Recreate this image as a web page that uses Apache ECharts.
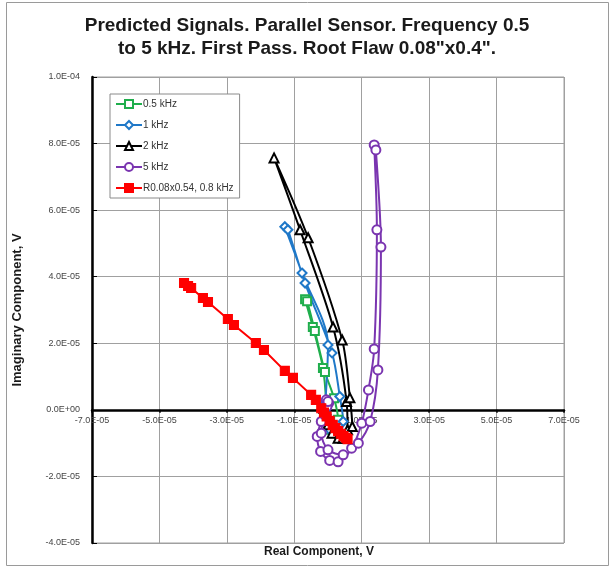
<!DOCTYPE html>
<html>
<head>
<meta charset="utf-8">
<script src="https://cdn.jsdelivr.net/npm/echarts@6/dist/echarts.min.js"></script>
<style>
  html, body { margin: 0; padding: 0; background: #fff; }
  #chart { width: 614px; height: 570px; }
</style>
</head>
<body>
<div id="chart"></div>
<script>
// Signal traces in the impedance plane: [real, imaginary] in volts.
const f05kHz = [
  [-0.05e-5, 0.15e-5], [-0.15e-5, 1.26e-5], [-0.45e-5, 2.49e-5], [-0.68e-5, 3.32e-5],
  [-0.62e-5, 3.26e-5], [-0.39e-5, 2.37e-5], [-0.09e-5, 1.14e-5], [0.18e-5, 0.35e-5],
  [0.30e-5, -0.30e-5], [0.20e-5, -0.70e-5], [0.00e-5, -0.60e-5], [-0.10e-5, -0.20e-5]
];
const f1kHz = [
  [-0.08e-5, 0.20e-5], [0.00e-5, 1.95e-5], [-0.77e-5, 4.11e-5], [-1.28e-5, 5.50e-5],
  [-1.19e-5, 5.41e-5], [-0.68e-5, 3.81e-5], [0.12e-5, 1.71e-5], [0.35e-5, 0.40e-5],
  [0.45e-5, -0.35e-5], [0.30e-5, -0.80e-5], [0.05e-5, -0.60e-5], [-0.05e-5, -0.15e-5]
];
const f2kHz = [
  [-0.12e-5, 0.05e-5], [0.00e-5, -0.45e-5], [0.30e-5, -0.85e-5], [0.58e-5, -0.60e-5],
  [0.55e-5, 0.25e-5], [0.15e-5, 2.49e-5], [-0.83e-5, 5.41e-5], [-1.60e-5, 7.57e-5],
  [-0.59e-5, 5.17e-5], [0.42e-5, 2.10e-5], [0.65e-5, 0.36e-5], [0.72e-5, -0.50e-5],
  [0.45e-5, -0.85e-5], [0.12e-5, -0.70e-5], [-0.02e-5, -0.30e-5]
];
const f5kHz = [
  [-0.05e-5, 0.30e-5], [0.02e-5, 0.20e-5], [-0.03e-5, 0.10e-5], [0.00e-5, 0.25e-5],
  [-0.20e-5, -0.35e-5], [-0.32e-5, -0.80e-5], [-0.22e-5, -1.25e-5], [0.05e-5, -1.52e-5],
  [0.30e-5, -1.56e-5], [0.70e-5, -1.15e-5], [1.00e-5, -0.40e-5], [1.20e-5, 0.60e-5],
  [1.37e-5, 1.83e-5], [1.45e-5, 5.41e-5], [1.37e-5, 7.96e-5], [1.42e-5, 7.81e-5],
  [1.57e-5, 4.89e-5], [1.48e-5, 1.20e-5], [1.25e-5, -0.35e-5], [0.90e-5, -1.00e-5],
  [0.45e-5, -1.35e-5], [0.00e-5, -1.20e-5], [-0.20e-5, -0.70e-5], [-0.10e-5, -0.15e-5]
];
const r008x054 = [
  [-4.27e-5, 3.81e-5], [-4.15e-5, 3.72e-5], [-4.06e-5, 3.66e-5], [-3.71e-5, 3.36e-5],
  [-3.56e-5, 3.24e-5], [-2.97e-5, 2.73e-5], [-2.79e-5, 2.55e-5], [-2.14e-5, 2.01e-5],
  [-1.90e-5, 1.80e-5], [-1.28e-5, 1.17e-5], [-1.04e-5, 0.96e-5], [-0.50e-5, 0.45e-5],
  [-0.36e-5, 0.30e-5], [-0.20e-5, 0.05e-5], [-0.12e-5, -0.08e-5], [-0.04e-5, -0.20e-5],
  [0.05e-5, -0.33e-5], [0.14e-5, -0.45e-5], [0.22e-5, -0.55e-5], [0.30e-5, -0.64e-5],
  [0.38e-5, -0.72e-5], [0.46e-5, -0.79e-5], [0.53e-5, -0.84e-5], [0.58e-5, -0.88e-5]
];

const seriesNames = ['0.5 kHz', '1 kHz', '2 kHz', '5 kHz', 'R0.08x0.54, 0.8 kHz'];

// Axis ranges and tick step
const xMin = -7e-5, xMax = 7e-5;
const yMin = -4e-5, yMax = 1e-4;
const step = 2e-5;

// Plot area placement
const gridTop = 77, gridBottom = 27, chartH = 570;
const plotH = chartH - gridTop - gridBottom;
// Shift the horizontal axis (line, ticks and labels) up to the y = 0 level
const xAxisShift = -plotH * (0 - yMin) / (yMax - yMin);

// Excel-style scientific label: 1.0E-04, 0.0E+00
function sci(v) {
  if (Math.abs(v) < 1e-12) return '0.0E+00';
  const m = v.toExponential(1).match(/^(-?\d\.\d)e([+-])(\d+)$/);
  return m[1] + 'E' + m[2] + m[3].padStart(2, '0');
}

const chart = echarts.init(document.getElementById('chart'), null, { renderer: 'canvas' });
const font = 'Liberation Sans, Arial, sans-serif';

function trace(name, data, color, symbol, size, smooth) {
  return {
    name, type: 'line', data, smooth,
    symbol, symbolSize: size,
    showAllSymbol: true,
    lineStyle: { color, width: 2 },
    itemStyle: { color, borderColor: color, borderWidth: 1.1 },
    emphasis: { disabled: true },
    animation: false
  };
}

chart.setOption({
  animation: false,
  backgroundColor: '#fff',
  title: {
    text: 'Predicted Signals. Parallel Sensor. Frequency 0.5\nto 5 kHz. First Pass. Root Flaw 0.08"x0.4".',
    left: 'center',
    top: 9,
    textStyle: { fontFamily: font, fontSize: 19, fontWeight: 'bold', color: '#1a1a1a', lineHeight: 23 }
  },
  graphic: [
    { type: 'rect', shape: { x: 6.5, y: 2.5, width: 602, height: 563 },
      style: { fill: 'none', stroke: '#9a9a9a', lineWidth: 1 }, z: -1 },
    { type: 'text', left: 264, top: 546,
      style: { text: 'Real Component, V', font: 'bold 12px ' + font, fill: '#1a1a1a' } }
  ],
  legend: {
    orient: 'vertical',
    left: 110, top: 94,
    width: 127,
    itemWidth: 26, itemHeight: 10, itemGap: 11,
    padding: [5, 6, 5, 5],
    backgroundColor: '#fff',
    borderColor: '#8a8a8a', borderWidth: 1,
    textStyle: { fontFamily: font, fontSize: 10, color: '#333', padding: [0, 0, 0, -4] },
    data: seriesNames
  },
  grid: {
    left: 92, right: 50, top: gridTop, bottom: gridBottom,
    show: true, borderColor: '#a0a0a0', borderWidth: 1, backgroundColor: 'transparent'
  },
  xAxis: {
    type: 'value', min: xMin, max: xMax, interval: step,
    offset: xAxisShift,
    axisLine: { onZero: false, lineStyle: { color: '#000', width: 2.5 } },
    axisTick: { show: true, length: 3, lineStyle: { color: '#000', width: 1.5 } },
    axisLabel: { formatter: sci, fontFamily: font, fontSize: 9, color: '#444', margin: 6, showMaxLabel: true, showMinLabel: true },
    splitLine: { show: true, lineStyle: { color: '#a0a0a0', width: 1 } }
  },
  yAxis: {
    type: 'value', min: yMin, max: yMax, interval: step,
    name: 'Imaginary Component, V',
    nameLocation: 'middle', nameRotate: 90, nameGap: 68,
    nameTextStyle: { fontFamily: font, fontSize: 13, fontWeight: 'bold', color: '#1a1a1a' },
    axisLine: { onZero: false, lineStyle: { color: '#000', width: 2.5 } },
    axisTick: { show: true, inside: true, length: 5, lineStyle: { color: '#000', width: 1 } },
    axisLabel: { formatter: sci, fontFamily: font, fontSize: 9, color: '#444', margin: 12 },
    splitLine: { show: true, lineStyle: { color: '#a0a0a0', width: 1 } }
  },
  series: [
    trace(seriesNames[0], f05kHz, '#1fae4c', 'emptyRect', 8, 0.3),
    trace(seriesNames[1], f1kHz, '#1f78c8', 'emptyDiamond', 9, 0.3),
    trace(seriesNames[2], f2kHz, '#000000', 'emptyTriangle', 9, 0.3),
    trace(seriesNames[3], f5kHz, '#7a35b0', 'emptyCircle', 9, 0.3),
    trace(seriesNames[4], r008x054, '#ff0000', 'rect', 9, false)
  ]
});
</script>
</body>
</html>
